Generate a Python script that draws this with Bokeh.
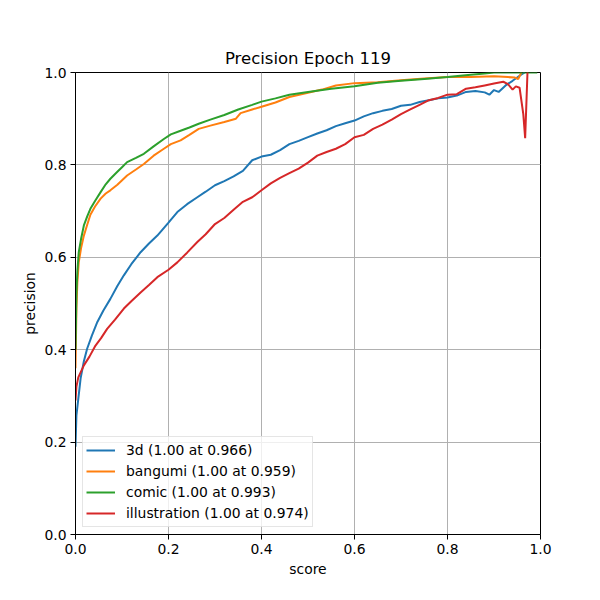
from bokeh.plotting import figure
from bokeh.models import FixedTicker, PrintfTickFormatter, Legend, LegendItem, Range1d
from bokeh.embed import file_html
from bokeh.resources import INLINE

title = "Precision Epoch 119"

x_3d = [0.0, 0.002, 0.011, 0.018, 0.025, 0.035, 0.047, 0.06, 0.075, 0.09, 0.104, 0.12, 0.14, 0.158, 0.176, 0.2, 0.219, 0.24, 0.262, 0.28, 0.3, 0.32, 0.34, 0.36, 0.38, 0.4, 0.42, 0.44, 0.46, 0.48, 0.5, 0.52, 0.54, 0.56, 0.58, 0.6, 0.62, 0.64, 0.66, 0.68, 0.7, 0.72, 0.74, 0.76, 0.78, 0.8, 0.82, 0.84, 0.86, 0.88, 0.89, 0.9, 0.91, 0.925, 0.94, 0.955, 0.966]
y_3d = [0.19, 0.258, 0.338, 0.375, 0.402, 0.43, 0.46, 0.485, 0.51, 0.538, 0.561, 0.585, 0.611, 0.63, 0.647, 0.675, 0.698, 0.715, 0.73, 0.742, 0.756, 0.765, 0.775, 0.787, 0.81, 0.818, 0.822, 0.832, 0.845, 0.852, 0.86, 0.868, 0.875, 0.884, 0.89, 0.896, 0.905, 0.912, 0.917, 0.921, 0.928, 0.93, 0.936, 0.94, 0.944, 0.946, 0.95, 0.958, 0.96, 0.957, 0.952, 0.962, 0.958, 0.972, 0.982, 0.993, 1.0]

x_bangumi = [0.0, 0.002, 0.004, 0.007, 0.012, 0.018, 0.025, 0.032, 0.042, 0.054, 0.065, 0.075, 0.09, 0.111, 0.13, 0.147, 0.168, 0.19, 0.205, 0.226, 0.245, 0.265, 0.29, 0.32, 0.345, 0.355, 0.38, 0.4, 0.43, 0.46, 0.5, 0.53, 0.56, 0.6, 0.65, 0.7, 0.75, 0.8, 0.85, 0.9, 0.93, 0.945, 0.952, 0.955, 0.959]
y_bangumi = [0.36, 0.49, 0.545, 0.589, 0.62, 0.647, 0.67, 0.692, 0.71, 0.727, 0.738, 0.745, 0.757, 0.777, 0.79, 0.802, 0.82, 0.835, 0.845, 0.853, 0.865, 0.878, 0.885, 0.893, 0.9, 0.912, 0.92, 0.926, 0.935, 0.947, 0.956, 0.963, 0.972, 0.977, 0.979, 0.983, 0.987, 0.99, 0.99, 0.992, 0.99, 0.989, 0.986, 0.992, 1.0]

x_comic = [0.0, 0.002, 0.004, 0.007, 0.012, 0.018, 0.025, 0.032, 0.042, 0.054, 0.065, 0.075, 0.09, 0.1, 0.111, 0.13, 0.147, 0.168, 0.19, 0.205, 0.226, 0.245, 0.265, 0.29, 0.32, 0.35, 0.38, 0.4, 0.43, 0.46, 0.5, 0.55, 0.6, 0.65, 0.7, 0.75, 0.8, 0.85, 0.88, 0.9, 0.993]
y_comic = [0.4, 0.52, 0.57, 0.611, 0.64, 0.669, 0.688, 0.705, 0.722, 0.741, 0.758, 0.77, 0.785, 0.795, 0.806, 0.815, 0.824, 0.84, 0.856, 0.866, 0.874, 0.881, 0.889, 0.898, 0.908, 0.92, 0.93, 0.937, 0.944, 0.952, 0.958, 0.965, 0.97, 0.978, 0.982, 0.986, 0.99, 0.995, 0.998, 1.0, 1.0]

x_illustration = [0.0, 0.002, 0.006, 0.018, 0.03, 0.043, 0.055, 0.068, 0.085, 0.104, 0.12, 0.14, 0.158, 0.176, 0.2, 0.219, 0.24, 0.262, 0.28, 0.3, 0.32, 0.34, 0.36, 0.38, 0.4, 0.42, 0.44, 0.46, 0.48, 0.5, 0.52, 0.54, 0.56, 0.58, 0.6, 0.62, 0.64, 0.66, 0.68, 0.7, 0.72, 0.74, 0.76, 0.78, 0.8, 0.82, 0.84, 0.86, 0.88, 0.9, 0.92, 0.93, 0.94, 0.947, 0.955, 0.963, 0.967, 0.972, 0.974]
y_illustration = [0.29, 0.32, 0.34, 0.366, 0.385, 0.409, 0.425, 0.445, 0.465, 0.489, 0.505, 0.524, 0.54, 0.557, 0.573, 0.589, 0.61, 0.633, 0.65, 0.672, 0.685, 0.703, 0.72, 0.73, 0.745, 0.76, 0.772, 0.782, 0.792, 0.805, 0.82, 0.828, 0.835, 0.845, 0.86, 0.865, 0.878, 0.887, 0.898, 0.91, 0.92, 0.93, 0.94, 0.945, 0.952, 0.953, 0.965, 0.968, 0.972, 0.976, 0.98, 0.975, 0.963, 0.97, 0.967, 0.91, 0.858, 1.0, 1.0]

labels = ["3d (1.00 at 0.966)", "bangumi (1.00 at 0.959)", "comic (1.00 at 0.993)", "illustration (1.00 at 0.974)"]
colors = ["#1f77b4", "#ff7f0e", "#2ca02c", "#d62728"]
ticks = [0.0, 0.2, 0.4, 0.6, 0.8, 1.0]

FONT = "DejaVu Sans"

p = figure(width=584, height=584, output_backend="svg", toolbar_location=None,
           x_range=Range1d(0, 1), y_range=Range1d(0, 1),
           min_border_left=75, min_border_right=44, min_border_top=72, min_border_bottom=50,
           x_axis_label="score", y_axis_label="precision")

p.title.text = title
p.title.align = "center"
p.title.text_font = FONT
p.title.text_font_size = "16.5px"
p.title.text_font_style = "normal"
p.title.text_color = "black"

p.outline_line_color = "black"
p.outline_line_width = 1
p.background_fill_color = "white"
p.border_fill_color = "white"

for ax in (p.xaxis[0], p.yaxis[0]):
    ax.ticker = FixedTicker(ticks=ticks)
    ax.formatter = PrintfTickFormatter(format="%.1f")
    ax.major_tick_out = 5
    ax.major_tick_in = 0
    ax.minor_tick_line_color = None
    ax.major_tick_line_color = "black"
    ax.axis_line_color = "black"
    ax.major_label_text_font = FONT
    ax.major_label_text_font_size = "13.9px"
    ax.major_label_text_color = "black"
    ax.axis_label_text_font = FONT
    ax.axis_label_text_font_size = "13.9px"
    ax.axis_label_text_font_style = "normal"
    ax.axis_label_text_color = "black"
    ax.major_label_standoff = 4

p.xaxis[0].axis_label_standoff = 4
p.yaxis[0].axis_label_standoff = 3

p.xgrid.ticker = FixedTicker(ticks=ticks)
p.ygrid.ticker = FixedTicker(ticks=ticks)
p.grid.grid_line_color = "#b0b0b0"
p.grid.grid_line_width = 1

series = [(x_3d, y_3d), (x_bangumi, y_bangumi), (x_comic, y_comic), (x_illustration, y_illustration)]
items = []
for (xs, ys), lab, c in zip(series, labels, colors):
    r = p.line(xs, ys, line_color=c, line_width=2)
    items.append(LegendItem(label=lab, renderers=[r]))

legend = Legend(items=items, location="bottom_left")
legend.label_text_font = FONT
legend.label_text_font_size = "13.9px"
legend.label_text_color = "black"
legend.glyph_width = 29
legend.glyph_height = 20
legend.label_height = 20
legend.label_standoff = 11
legend.spacing = 1
legend.padding = 3
legend.margin = 7
legend.border_line_color = "#cccccc"
legend.background_fill_alpha = 0.8
p.add_layout(legend, "center")

open("out.html", "w").write(file_html(p, INLINE))
